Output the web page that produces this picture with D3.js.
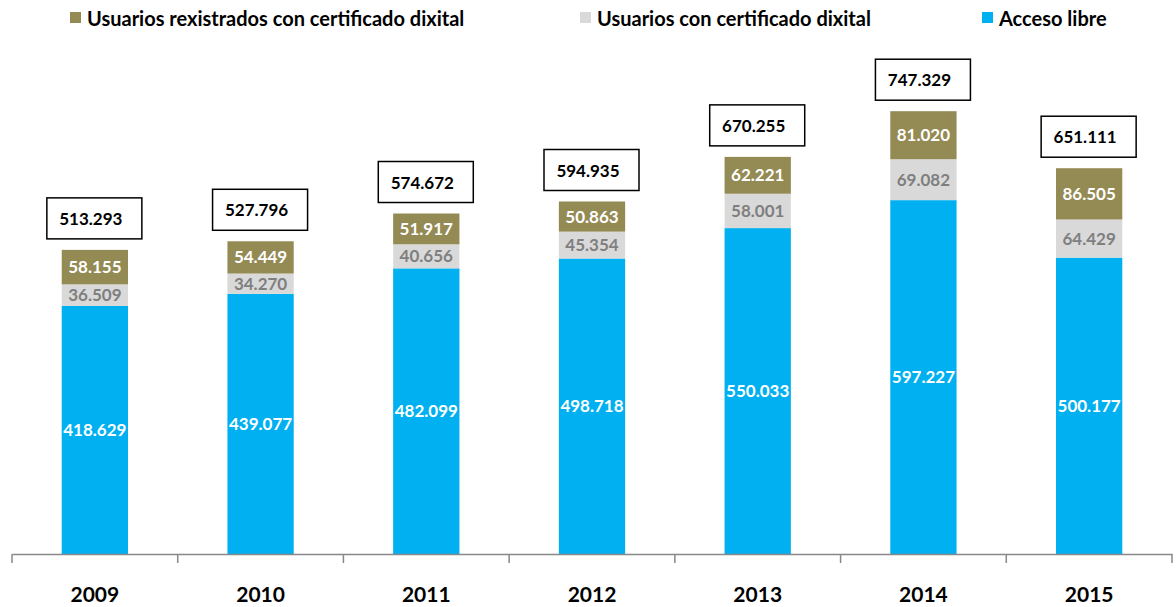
<!DOCTYPE html>
<html>
<head>
<meta charset="utf-8">
<script src="https://cdn.jsdelivr.net/npm/d3@7"></script>
<style>
  body { margin: 0; background: #fff; }
  text { font-family: Lato, "Liberation Sans", sans-serif; font-weight: bold; }
</style>
</head>
<body>
<div id="chart"></div>
<script>
// Data
const years = ['2009', '2010', '2011', '2012', '2013', '2014', '2015']
const acceso = [418629, 439077, 482099, 498718, 550033, 597227, 500177]
const conCert = [36509, 34270, 40656, 45354, 58001, 69082, 64429]
const rexistrados = [58155, 54449, 51917, 50863, 62221, 81020, 86505]
const seriesNames = ['Usuarios rexistrados con certificado dixital', 'Usuarios con certificado dixital', 'Acceso libre']

const width = 1176,
      height = 607,
      baseY = 554

const colors = { acceso: '#00B0F0', conCert: '#D9D9D9', rexistrados: '#948A54' }
const labelColors = { acceso: '#fff', conCert: '#7F7F7F', rexistrados: '#fff' }

const fmt = v => d3.format(',')(v).replace(/,/g, '.')

let rows = years.map((y, i) => ({
  year: y,
  acceso: acceso[i],
  conCert: conCert[i],
  rexistrados: rexistrados[i],
  total: acceso[i] + conCert[i] + rexistrados[i]
}))

const keys = ['acceso', 'conCert', 'rexistrados']
const stacked = d3.stack().keys(keys)(rows)

let svg = d3.select('#chart')
  .append('svg')
  .attr('width', width)
  .attr('height', height)

// scales
const xScale = d3.scaleBand()
  .domain(years)
  .range([12, 1172])
  .paddingInner(0.6)
  .paddingOuter(0.3)

const yScale = d3.scaleLinear()
  .domain([0, 800000])
  .range([baseY, 80])

// bars
stacked.forEach(layer => {
  let g = svg.append('g')
  g.selectAll('rect')
    .data(layer)
    .enter()
    .append('rect')
    .attr('x', d => xScale(d.data.year))
    .attr('y', d => yScale(d[1]))
    .attr('width', xScale.bandwidth())
    .attr('height', d => yScale(d[0]) - yScale(d[1]))
    .attr('fill', colors[layer.key])

  g.selectAll('text')
    .data(layer)
    .enter()
    .append('text')
    .attr('x', d => xScale(d.data.year) + xScale.bandwidth() / 2)
    .attr('y', d => (yScale(d[0]) + yScale(d[1])) / 2 + 6)
    .attr('text-anchor', 'middle')
    .attr('font-size', 17)
    .attr('fill', labelColors[layer.key])
    .text(d => fmt(d.data[layer.key]))
})

// total boxes
let totals = svg.append('g')
totals.selectAll('rect')
  .data(rows)
  .enter()
  .append('rect')
  .attr('x', d => xScale(d.year) + xScale.bandwidth() / 2 - 48)
  .attr('y', d => yScale(d.total) - 52)
  .attr('width', 95)
  .attr('height', 41)
  .attr('fill', '#fff')
  .attr('stroke', '#000')
  .attr('stroke-width', 1.5)

totals.selectAll('text')
  .data(rows)
  .enter()
  .append('text')
  .attr('x', d => xScale(d.year) + xScale.bandwidth() / 2 - 4)
  .attr('y', d => yScale(d.total) - 25)
  .attr('text-anchor', 'middle')
  .attr('font-size', 17)
  .attr('fill', '#000')
  .text(d => fmt(d.total))

// x axis
const xAxis = d3.axisBottom(xScale).tickSize(0).tickPadding(0)
let ax = svg.append('g')
  .attr('transform', `translate(0,${baseY})`)
  .call(xAxis)
ax.select('.domain').attr('stroke', '#888').attr('stroke-width', 1.5)
ax.selectAll('text')
  .attr('font-size', 21)
  .attr('fill', '#000')
  .attr('dy', 0)
  .attr('y', 48)
  .style('font-family', null)

// separating ticks between categories
const tickX = d3.range(years.length + 1).map(i => 12 + i * (1160 / years.length))
ax.selectAll('.sep')
  .data(tickX)
  .enter()
  .append('line')
  .attr('class', 'sep')
  .attr('x1', d => d).attr('x2', d => d)
  .attr('y1', 0).attr('y2', 9)
  .attr('stroke', '#888')
  .attr('stroke-width', 1.5)

// legend
const legendX = [70, 580, 982]
const legendKeys = ['rexistrados', 'conCert', 'acceso']
let legend = svg.append('g')
legendKeys.forEach((k, i) => {
  legend.append('rect')
    .attr('x', legendX[i])
    .attr('y', 12)
    .attr('width', 11)
    .attr('height', 11)
    .attr('fill', colors[k])
  legend.append('text')
    .attr('x', legendX[i] + 17)
    .attr('y', 26)
    .attr('font-size', 20)
    .attr('fill', '#000')
    .text(seriesNames[i])
})
</script>
</body>
</html>
